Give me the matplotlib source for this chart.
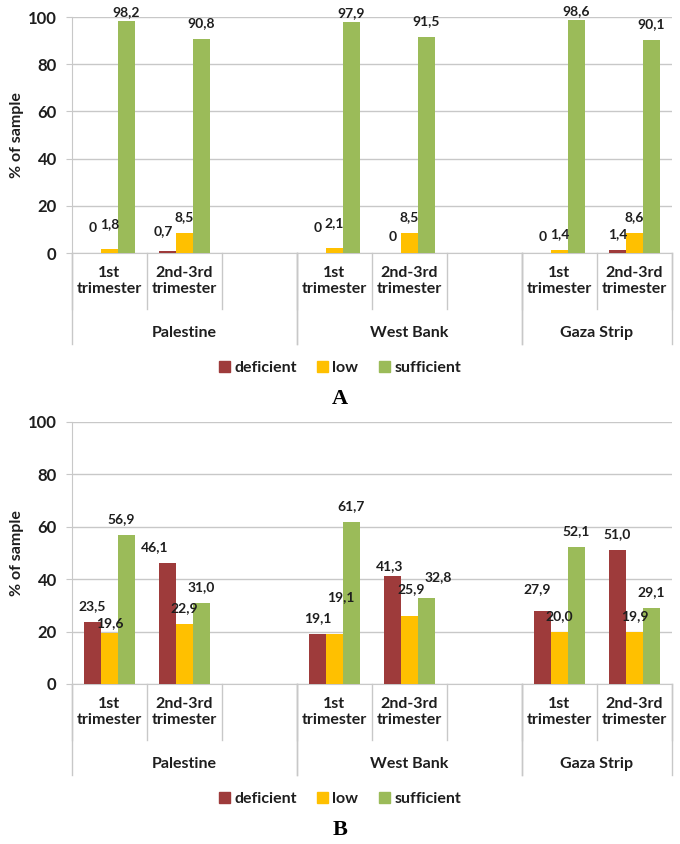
import numpy as np
import matplotlib
matplotlib.use('Agg')
import matplotlib.pyplot as plt
from matplotlib.patches import Patch

regions = ['Palestine', 'West Bank', 'Gaza Strip']
stages = ['1st\ntrimester', '2nd-3rd\ntrimester']
series = ['deficient', 'low', 'sufficient']
colors = ['#9E3B3B', '#FFC000', '#9BBB59']

# panel A
a_deficient = [0, 0.7, 0, 0, 0, 1.4]
a_low = [1.8, 8.5, 2.1, 8.5, 1.4, 8.6]
a_sufficient = [98.2, 90.8, 97.9, 91.5, 98.6, 90.1]

# panel B
b_deficient = [23.5, 46.1, 19.1, 41.3, 27.9, 51.0]
b_low = [19.6, 22.9, 19.1, 25.9, 20.0, 19.9]
b_sufficient = [56.9, 31.0, 61.7, 32.8, 52.1, 29.1]

yticks = [0, 20, 40, 60, 80, 100]

# hand-moved data labels, (panel, series, bar) -> (dx, dy) in pixels
nudges = {
    ('A', 0, 0): (0, 9), ('A', 1, 0): (0, 9),
    ('A', 0, 2): (0, 9), ('A', 1, 2): (0, 9),
    ('A', 2, 0): (0, -7), ('A', 2, 2): (0, -7), ('A', 2, 4): (0, -7),
    ('A', 0, 1): (-4, 4),
    ('B', 1, 0): (0, -6), ('B', 2, 0): (-5, 0),
    ('B', 0, 1): (-13, 0),
    ('B', 1, 2): (6, 21),
    ('B', 0, 3): (-3, -6), ('B', 1, 3): (2, 11), ('B', 2, 3): (12, 5),
    ('B', 0, 4): (-5, 6),
}

plt.rcParams['font.family'] = ['Lato', 'DejaVu Sans']
TXT = '#1E1E1E'
GRID = '#C8C8C8'

W, H = 680, 844
fig = plt.figure(figsize=(W / 100, H / 100), dpi=100)

slot = len(stages) + 1
pos = np.array([r * slot + s for r in range(len(regions)) for s in range(len(stages))])
nslots = len(regions) * slot - 1
bw = 0.227


def px(y):
    # pixel row from top -> figure fraction
    return 1 - y / H


def panel(top, bottom, data, fmt, letter):
    ax = fig.add_axes([72 / W, px(bottom), 600 / W, (bottom - top) / H])
    h = bottom - top
    for k, vals in enumerate(data):
        x = pos + (k - 1) * bw
        ax.bar(x, vals, bw, color=colors[k], zorder=3)
        for i, (xi, v) in enumerate(zip(x, vals)):
            dx, dy = nudges.get((letter, k, i), (0, 0))
            ax.annotate(fmt(v).replace('.', ','), (xi, v),
                        xytext=(dx * 0.72, (16 + dy) * 0.72),
                        textcoords='offset points', ha='center', va='center',
                        fontsize=10, fontweight='bold', color=TXT,
                        annotation_clip=False, zorder=6)
    ax.set_xlim(-0.5, nslots - 0.5)
    ax.set_ylim(0, 100)
    ax.set_yticks(yticks)
    ax.grid(axis='y', color=GRID, lw=1)
    ax.set_axisbelow(True)
    for s in ['top', 'right']:
        ax.spines[s].set_visible(False)
    for s in ['left', 'bottom']:
        ax.spines[s].set_color(GRID)
    ax.tick_params(axis='y', length=4, color=GRID, labelsize=12,
                   labelcolor=TXT, pad=7)
    for t in ax.get_yticklabels():
        t.set_fontweight('bold')
    ax.set_xticks([])
    ax.set_ylabel('% of sample', fontsize=11.5, color=TXT, fontweight='bold')
    ax.yaxis.set_label_coords(-(72 - 24) / 600, 0.5)

    tr = ax.get_xaxis_transform()
    # sub-category separators and labels
    for b in np.arange(nslots + 1) - 0.5:
        ax.plot([b, b], [0, -56 / h], color=GRID, lw=1, transform=tr, clip_on=False)
    for i, p in enumerate(pos):
        ax.text(p, -28 / h, stages[i % len(stages)], transform=tr, ha='center',
                va='center', fontsize=11.5, fontweight='bold', color=TXT,
                linespacing=1.2)
    # region separators and labels
    for r, name in enumerate(regions):
        x0 = r * slot - 0.5
        x1 = min(x0 + slot, nslots - 0.5)
        for b in (x0, x1):
            ax.plot([b, b], [0, -91 / h], color=GRID, lw=1, transform=tr, clip_on=False)
        ax.text((x0 + x1) / 2, -80 / h, name, transform=tr, ha='center',
                va='center', fontsize=11.5, fontweight='bold', color=TXT)

    handles = [Patch(color=c, label=s) for c, s in zip(colors, series)]
    fig.legend(handles=handles, loc='center', bbox_to_anchor=(0.5, px(bottom + 115)),
               ncol=3, frameon=False, handlelength=0.7, handleheight=0.7,
               handletextpad=0.25, columnspacing=1.3,
               prop={'size': 11.5, 'weight': 'bold'}, labelcolor=TXT)
    fig.text(0.5, px(bottom + 146), letter, ha='center', va='center',
             fontsize=16, fontweight='bold', family='Liberation Serif', color='black')
    return ax


panel(17, 253, [a_deficient, a_low, a_sufficient], lambda v: '{:g}'.format(v), 'A')
panel(422, 684, [b_deficient, b_low, b_sufficient], lambda v: '{:.1f}'.format(v), 'B')

fig.savefig('out.png', dpi=100)
